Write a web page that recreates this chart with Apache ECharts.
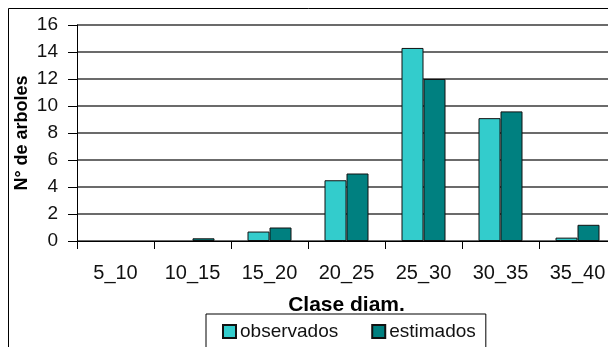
<!DOCTYPE html>
<html>
<head>
<meta charset="utf-8">
<script src="https://cdn.jsdelivr.net/npm/echarts@6/dist/echarts.min.js"></script>
<style>
  html, body { margin: 0; padding: 0; background: #fff; }
  #chart { width: 608px; height: 347px; }
</style>
</head>
<body>
<div id="chart"></div>
<script>
// Diameter classes and tree counts per class
const classes = ['5_10', '10_15', '15_20', '20_25', '25_30', '30_35', '35_40'];
const observados = [0, 0, 0.7, 4.5, 14.3, 9.1, 0.25];
const estimados = [0, 0.2, 1.0, 5.0, 12.0, 9.6, 1.2];
const yTicks = { min: 0, max: 16, interval: 2 };

const FONT = '"Liberation Sans", Arial, sans-serif';

// empty classes get no outline, so nothing is drawn for them
const toBarData = arr => arr.map(v => v === 0
  ? { value: v, itemStyle: { borderWidth: 0 } }
  : v);

const chart = echarts.init(document.getElementById('chart'), null, { renderer: 'canvas' });

chart.setOption({
  animation: false,
  backgroundColor: '#fff',
  graphic: [{
    type: 'rect',
    left: 6, top: 6,
    shape: { width: 700, height: 500 },
    style: { fill: 'none', stroke: '#000', lineWidth: 1 },
    silent: true
  }],
  // plot area runs slightly past the right edge of the page
  grid: { left: 77, top: 25, width: 539, bottom: 106, outerBoundsMode: 'none', containLabel: false },
  legend: {
    data: ['observados', 'estimados'],
    left: 206, top: 314,
    orient: 'horizontal',
    itemWidth: 13, itemHeight: 13, itemGap: 33,
    padding: [8, 10, 40, 16],
    borderColor: '#000', borderWidth: 1,
    icon: 'rect',
    textStyle: { fontFamily: FONT, fontSize: 19, color: '#111', padding: [0, 0, 0, -1] }
  },
  xAxis: {
    type: 'category',
    data: classes,
    z: 5,
    name: 'Clase diam.',
    nameLocation: 'middle',
    nameGap: 54,
    nameMoveOverlap: false,
    nameTextStyle: { fontFamily: FONT, fontSize: 21, fontWeight: 'bold', color: '#000' },
    axisLine: { lineStyle: { color: '#000', width: 1 } },
    axisTick: { show: true, length: 8, alignWithLabel: false, lineStyle: { color: '#000' } },
    axisLabel: { fontFamily: FONT, fontSize: 20, color: '#111', margin: 22, interval: 0 }
  },
  yAxis: {
    type: 'value',
    min: yTicks.min, max: yTicks.max, interval: yTicks.interval,
    name: 'N° de arboles',
    nameLocation: 'middle',
    nameGap: 46,
    nameMoveOverlap: false,
    nameRotate: 90,
    nameTextStyle: { fontFamily: FONT, fontSize: 18, fontWeight: 'bold', color: '#000' },
    axisLine: { show: true, lineStyle: { color: '#000', width: 1 } },
    axisTick: { show: true, length: 9, lineStyle: { color: '#000' } },
    axisLabel: { fontFamily: FONT, fontSize: 19, color: '#111', margin: 19 },
    splitLine: { show: true, lineStyle: { color: '#3a3a3a', width: 1.5 } }
  },
  series: [
    {
      name: 'observados',
      type: 'bar',
      data: toBarData(observados),
      barWidth: 22,
      barGap: '0%',
      itemStyle: { color: '#33CCCC', borderColor: '#111', borderWidth: 1 }
    },
    {
      name: 'estimados',
      type: 'bar',
      data: toBarData(estimados),
      barWidth: 22,
      barGap: '0%',
      itemStyle: { color: '#008080', borderColor: '#111', borderWidth: 1 }
    }
  ]
});
</script>
</body>
</html>
